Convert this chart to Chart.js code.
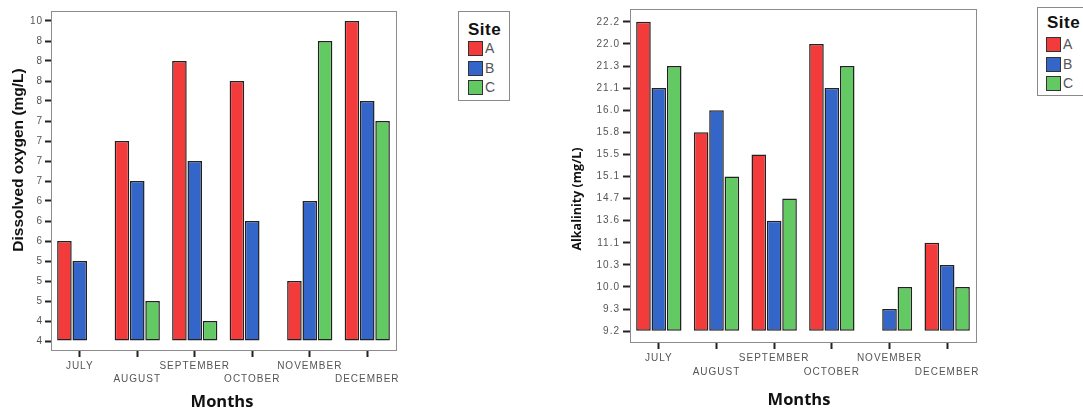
<!DOCTYPE html>
<html>
<head>
<meta charset="utf-8">
<script src="https://cdn.jsdelivr.net/npm/chart.js@4.4.1/dist/chart.umd.min.js"></script>
<style>
    html, body { margin: 0; padding: 0; background: #fff; }
    body { width: 1083px; height: 412px; position: relative; overflow: hidden; }
    canvas { position: absolute; top: 0; }
    #do-chart { left: 0; }
    #alk-chart { left: 540px; }
    .site-legend {
        position: absolute;
        border: 1px solid #8a8a8a;
        background: #fff;
        font-family: "Liberation Sans", Arial, sans-serif;
        box-sizing: border-box;
    }
    .site-legend .title {
        position: absolute;
        font-weight: bold;
        font-size: 17px;
        color: #111;
        letter-spacing: 0.5px;
    }
    .site-legend .item {
        position: absolute;
        height: 14px;
        font-size: 14px;
        line-height: 14px;
        color: #555;
    }
    .site-legend .swatch {
        position: absolute;
        left: 0; top: 0;
        width: 13px; height: 13px;
        border: 1px solid #333;
    }
    .site-legend .label { position: absolute; left: 17px; top: 0; }
</style>
</head>
<body>
<canvas id="do-chart" width="430" height="412"></canvas>
<canvas id="alk-chart" width="460" height="412"></canvas>
<div id="do-legend" class="site-legend" style="left:458px; top:11px; width:52px; height:90px;"></div>
<div id="alk-legend" class="site-legend" style="left:1037px; top:7px; width:60px; height:89px;"></div>

<script>
// Categories and sites
const months = ['JULY', 'AUGUST', 'SEPTEMBER', 'OCTOBER', 'NOVEMBER', 'DECEMBER'];
const siteNames = ['A', 'B', 'C'];
const siteColors = ['#f43b3b', '#3465c9', '#63c963'];

// Dissolved oxygen: the axis is ordinal (labels repeat), so bars are stored as tick positions
const doTickLabels = ['4', '4', '5', '5', '5', '6', '6', '6', '7', '7', '7', '7', '8', '8', '8', '8', '10'];
const doSiteA = [5, 10, 14, 13, 3, 16];
const doSiteB = [4, 8, 9, 6, 7, 12];
const doSiteC = [null, 2, 1, null, 15, 11];

// Alkalinity (mg/L): ordinal axis, values looked up in the tick labels
const alkTickLabels = ['9.2', '9.3', '10.0', '10.3', '11.1', '13.6', '14.7', '15.1', '15.5', '15.8', '16.0', '21.1', '21.3', '22.0', '22.2'];
const alkSiteA = [22.2, 15.8, 15.5, 22.0, null, 11.1];
const alkSiteB = [21.1, 16.0, 13.6, 21.1, 9.3, 10.3];
const alkSiteC = [21.3, 15.1, 14.7, 21.3, 10.0, 10.0];

function alkPosition(values) {
    return values.map(v => v === null ? null : alkTickLabels.indexOf(v.toFixed(1)));
}

// Box around the plot area
const framePlugin = {
    id: 'frame',
    beforeDatasetsDraw(chart) {
        const a = chart.chartArea;
        const ctx = chart.ctx;
        ctx.save();
        ctx.strokeStyle = '#8c8c8c';
        ctx.lineWidth = 1;
        ctx.strokeRect(Math.round(a.left) + 0.5, Math.round(a.top) + 0.5,
            Math.round(a.right - a.left), Math.round(a.bottom - a.top));
        ctx.restore();
    }
};

// Spaced-out tick text, plain axis titles drawn at fixed spots
const axisTitlePlugin = {
    id: 'axisTitles',
    beforeDraw(chart) {
        chart.ctx.letterSpacing = '1px';
    },
    afterDraw(chart, args, opts) {
        const ctx = chart.ctx;
        ctx.letterSpacing = '0px';
        (opts.titles || []).forEach(t => {
            ctx.save();
            ctx.translate(t.x, t.y);
            if (t.rotate) ctx.rotate(-Math.PI / 2);
            ctx.font = t.font;
            ctx.fillStyle = '#111';
            ctx.textAlign = 'center';
            ctx.textBaseline = 'middle';
            ctx.fillText(t.text, 0, 0);
            ctx.restore();
        });
    }
};

function makeDatasets(seriesList) {
    return seriesList.map((data, i) => ({
        label: siteNames[i],
        data: data,
        backgroundColor: siteColors[i],
        borderColor: '#222',
        borderWidth: 1.5,
        borderSkipped: false,
        categoryPercentage: 0.8,
        barPercentage: 0.95
    }));
}

function makeChart(canvasId, cfg) {
    const tickFont = { family: '"Liberation Sans", Arial, sans-serif', size: 10 };
    return new Chart(document.getElementById(canvasId), {
        type: 'bar',
        data: {
            labels: months,
            datasets: makeDatasets(cfg.series)
        },
        options: {
            responsive: false,
            animation: false,
            devicePixelRatio: 1,
            layout: { padding: { top: cfg.padTop, right: cfg.padRight, left: 0, bottom: 0 } },
            plugins: {
                legend: { display: false },
                tooltip: { enabled: false },
                axisTitles: { titles: cfg.titles }
            },
            scales: {
                x: {
                    afterFit: scale => { scale.height = cfg.xHeight; },
                    grid: {
                        offset: false,
                        drawOnChartArea: false,
                        tickLength: 7,
                        tickWidth: 2,
                        tickColor: '#222'
                    },
                    border: { display: false },
                    ticks: {
                        autoSkip: false,
                        maxRotation: 0,
                        padding: cfg.xPad,
                        color: '#555',
                        font: Object.assign({ lineHeight: cfg.xLine }, tickFont),
                        callback: (value, index) => index % 2 ? ['', months[index]] : months[index]
                    }
                },
                y: {
                    min: cfg.yMin,
                    max: cfg.yMax,
                    afterFit: scale => { scale.width = cfg.yWidth; },
                    afterBuildTicks: axis => {
                        axis.ticks = cfg.tickLabels.map((_, i) => ({ value: i }));
                    },
                    grid: {
                        drawOnChartArea: false,
                        tickLength: cfg.yTick,
                        tickWidth: 2,
                        tickColor: '#222'
                    },
                    border: { display: false },
                    ticks: {
                        padding: cfg.yPad,
                        color: '#555',
                        font: tickFont,
                        callback: value => cfg.tickLabels[value]
                    }
                }
            }
        },
        plugins: [framePlugin, axisTitlePlugin]
    });
}

function buildLegend(id, pos) {
    const box = document.getElementById(id);
    const title = document.createElement('div');
    title.className = 'title';
    title.textContent = 'Site';
    title.style.left = pos.titleX + 'px';
    title.style.top = pos.titleY + 'px';
    box.appendChild(title);
    siteNames.forEach((name, i) => {
        const item = document.createElement('div');
        item.className = 'item';
        item.style.left = pos.itemX + 'px';
        item.style.top = (pos.itemY + i * pos.step) + 'px';
        item.innerHTML = '<span class="swatch" style="background:' + siteColors[i] + '"></span>' +
            '<span class="label">' + name + '</span>';
        box.appendChild(item);
    });
}

makeChart('do-chart', {
    series: [doSiteA, doSiteB, doSiteC],
    tickLabels: doTickLabels,
    yMin: -0.45, yMax: 16.5,
    padTop: 11, padRight: 34,
    yWidth: 51, yTick: 6, yPad: 2,
    xHeight: 62, xPad: 3, xLine: 1.3,
    titles: [
        { text: 'Dissolved oxygen (mg/L)', x: 19, y: 160, rotate: true, font: 'bold 15.5px "Liberation Sans", Arial, sans-serif' },
        { text: 'Months', x: 222, y: 402, rotate: false, font: 'bold 16.5px "Open Sans", sans-serif' }
    ]
});

makeChart('alk-chart', {
    series: [alkPosition(alkSiteA), alkPosition(alkSiteB), alkPosition(alkSiteC)],
    tickLabels: alkTickLabels,
    yMin: -0.49, yMax: 14.58,
    padTop: 6, padRight: 24,
    yWidth: 90, yTick: 7, yPad: 3,
    xHeight: 70, xPad: 2, xLine: 1.4,
    titles: [
        { text: 'Alkalinity (mg/L)', x: 37, y: 199, rotate: true, font: 'bold 12.5px "Open Sans", sans-serif' },
        { text: 'Months', x: 259, y: 400, rotate: false, font: 'bold 16.5px "Open Sans", sans-serif' }
    ]
});

buildLegend('do-legend', { titleX: 9, titleY: 8, itemX: 9, itemY: 29, step: 19.5 });
buildLegend('alk-legend', { titleX: 9, titleY: 5, itemX: 8, itemY: 29, step: 19.5 });
</script>
</body>
</html>
